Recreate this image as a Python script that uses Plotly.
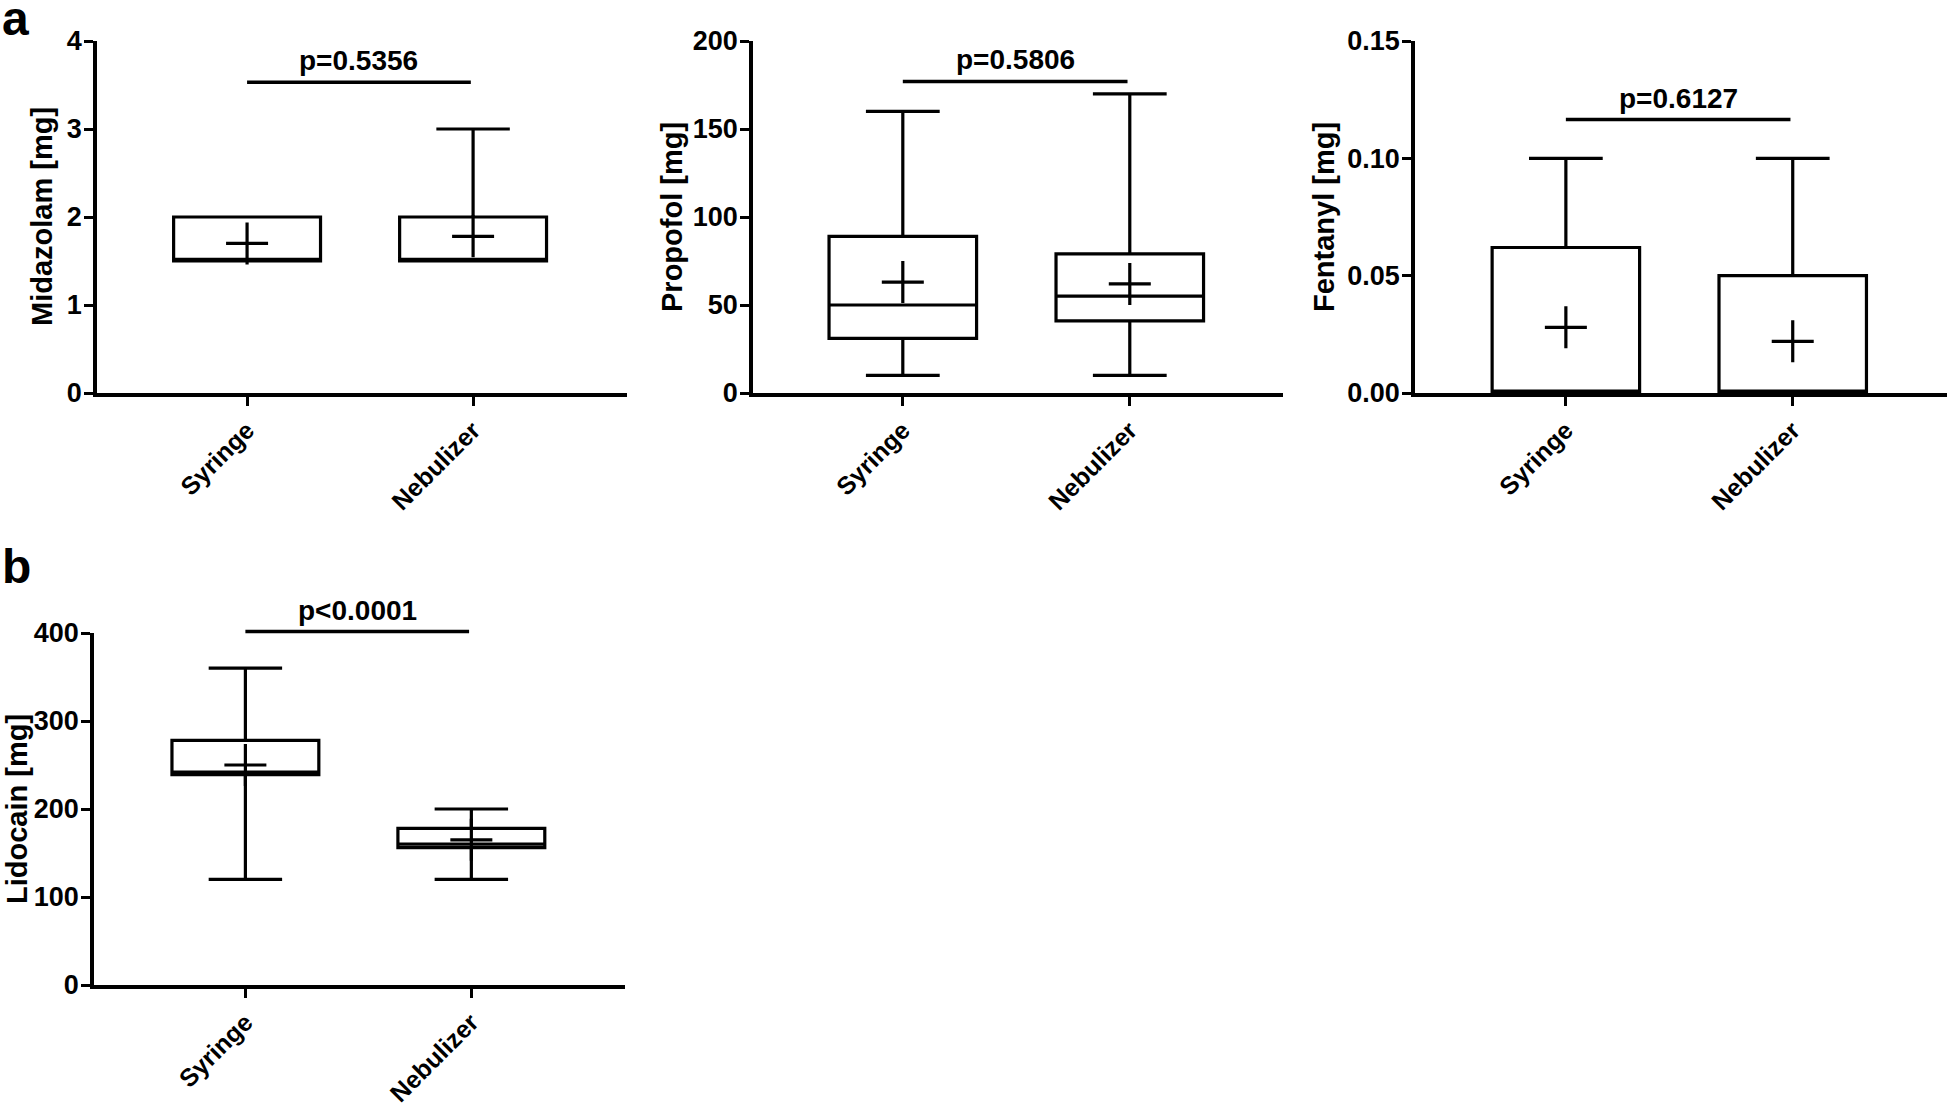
import plotly.graph_objects as go

W, H = 1947, 1104

categories = ["Syringe", "Nebulizer"]
cat_pos = [0, 1]

# Midazolam [mg]
midazolam_min = [1.5, 1.5]
midazolam_q1 = [1.5, 1.5]
midazolam_median = [1.52, 1.52]
midazolam_q3 = [2.0, 2.0]
midazolam_max = [2.0, 3.0]
midazolam_mean = [1.70, 1.78]

# Propofol [mg]
propofol_min = [10, 10]
propofol_q1 = [31, 41]
propofol_median = [50, 55]
propofol_q3 = [89, 79]
propofol_max = [160, 170]
propofol_mean = [63, 62]

# Fentanyl [mg]
fentanyl_min = [0.0, 0.0]
fentanyl_q1 = [0.0, 0.0]
fentanyl_median = [0.0008, 0.0008]
fentanyl_q3 = [0.062, 0.05]
fentanyl_max = [0.10, 0.10]
fentanyl_mean = [0.028, 0.022]

# Lidocain [mg]
lidocain_min = [120, 120]
lidocain_q1 = [239, 156]
lidocain_median = [242, 160]
lidocain_q3 = [278, 178]
lidocain_max = [360, 200]
lidocain_mean = [250, 165]

p_texts = ["p=0.5356", "p=0.5806", "p=0.6127", "p<0.0001"]
p_bar_y = [3.53, 177, 0.1165, 401.6]

y_titles = ["Midazolam [mg]", "Propofol [mg]", "Fentanyl [mg]", "Lidocain [mg]"]
y_ranges = [[0, 4], [0, 200], [0, 0.15], [0, 400]]
y_tickvals = [[0, 1, 2, 3, 4], [0, 50, 100, 150, 200],
              [0, 0.05, 0.10, 0.15], [0, 100, 200, 300, 400]]
y_ticktext = [["0", "1", "2", "3", "4"], ["0", "50", "100", "150", "200"],
              ["0.00", "0.05", "0.10", "0.15"], ["0", "100", "200", "300", "400"]]

panels = [
    (midazolam_min, midazolam_q1, midazolam_median, midazolam_q3, midazolam_max, midazolam_mean),
    (propofol_min, propofol_q1, propofol_median, propofol_q3, propofol_max, propofol_mean),
    (fentanyl_min, fentanyl_q1, fentanyl_median, fentanyl_q3, fentanyl_max, fentanyl_mean),
    (lidocain_min, lidocain_q1, lidocain_median, lidocain_q3, lidocain_max, lidocain_mean),
]

# layout geometry (pixels)
px_x = [(97, 627), (753, 1283), (1415, 1947), (94, 625)]
px_y = [(41, 393), (41, 393), (41, 393), (633, 985)]
x_ranges = [[-0.664, 1.681], [-0.66, 1.675], [-0.665, 1.68], [-0.67, 1.68]]
title_px_x = [42, 672, 1324, 17]

FONT = "Liberation Sans, Arial, sans-serif"
fig = go.Figure()
layout = dict(width=W, height=H, margin=dict(l=0, r=0, t=0, b=0, pad=0),
              template="none",
              plot_bgcolor="white", paper_bgcolor="white", showlegend=False,
              font=dict(family=FONT, color="black"))
annotations = []
shapes = []

for i, (mn, q1, med, q3, mx, mean) in enumerate(panels):
    k = "" if i == 0 else str(i + 1)
    xa, ya = "x" + k, "y" + k
    (x0, x1), (yt, yb) = px_x[i], px_y[i]
    xd = [x0 / W, min(x1 / W, 1.0)]
    yd = [1 - yb / H, 1 - yt / H]
    fig.add_trace(go.Box(
        x=cat_pos, q1=q1, median=med, q3=q3, lowerfence=mn, upperfence=mx,
        width=0.65, whiskerwidth=0.5, boxpoints=False,
        fillcolor="rgba(255,255,255,0)", line=dict(color="black", width=3.2),
        xaxis=xa, yaxis=ya, hoverinfo="skip"))
    fig.add_trace(go.Scatter(
        x=cat_pos, y=mean, mode="markers", xaxis=xa, yaxis=ya,
        marker=dict(symbol="cross-thin", size=30, color="black",
                    line=dict(color="black", width=3.2)), hoverinfo="skip"))
    axis_common = dict(showline=True, linewidth=3.5, linecolor="black",
                       ticks="outside", ticklen=9, tickwidth=3, tickcolor="black",
                       showgrid=False, zeroline=False, fixedrange=True,
                       automargin=False)
    layout["xaxis" + k] = dict(
        domain=xd, range=x_ranges[i], anchor=ya, tickmode="array",
        tickvals=cat_pos, ticktext=categories, tickangle=-45,
        tickfont=dict(size=25, family=FONT, weight="bold"), **axis_common)
    layout["yaxis" + k] = dict(
        domain=yd, range=y_ranges[i], anchor=xa, tickmode="array",
        tickvals=y_tickvals[i], ticktext=y_ticktext[i], ticklabelstandoff=-3,
        tickfont=dict(size=27, family=FONT, weight="bold"),
        **axis_common)

    # y-axis title
    annotations.append(dict(xref="paper", yref="paper", x=title_px_x[i] / W,
                            y=(yd[0] + yd[1]) / 2, text=y_titles[i], textangle=-90,
                            showarrow=False, xanchor="center", yanchor="middle",
                            borderpad=0,
                            font=dict(size=29, family=FONT, weight="bold")))

    def to_paper(v, i=i, yd=yd):
        r0, r1 = y_ranges[i]
        return yd[0] + (v - r0) / (r1 - r0) * (yd[1] - yd[0])

    pb = to_paper(p_bar_y[i])
    shapes.append(dict(type="line", xref=xa, yref="paper", x0=0, x1=0.99,
                       y0=pb, y1=pb, line=dict(color="black", width=3.5)))
    annotations.append(dict(xref=xa, yref="paper", x=0.495, y=pb + 4 / H,
                            text=p_texts[i], showarrow=False, yanchor="bottom",
                            font=dict(size=28, family=FONT, weight="bold")))

annotations.append(dict(xref="paper", yref="paper", x=0.0, y=1.0 + 10 / H, text="a",
                        showarrow=False, xanchor="left", yanchor="top",
                        font=dict(size=48, family=FONT, weight="bold")))
annotations.append(dict(xref="paper", yref="paper", x=0.0, y=1 - 538 / H, text="b",
                        showarrow=False, xanchor="left", yanchor="top",
                        font=dict(size=48, family=FONT, weight="bold")))

layout["annotations"] = annotations
layout["shapes"] = shapes
fig.update_layout(**layout)
fig.write_html("out.html", config={"displayModeBar": False},
               post_script="document.body.style.margin='0';document.body.style.padding='0';")
